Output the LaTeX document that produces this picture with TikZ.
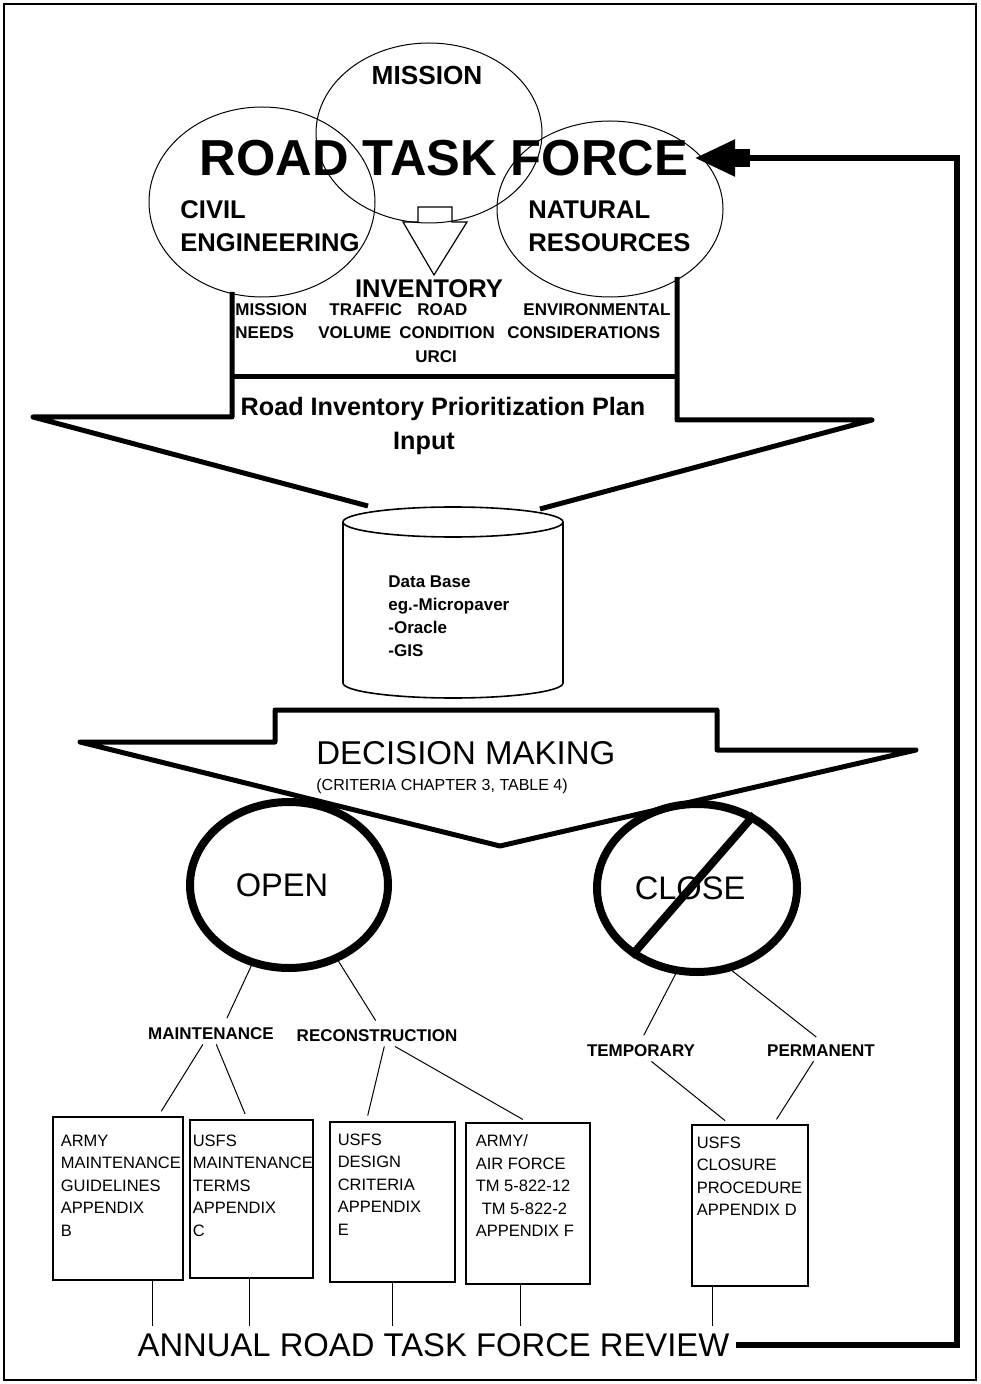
\documentclass[tikz,border=0pt]{standalone}
\usepackage{fontspec}
\setmainfont{Liberation Sans}
\usetikzlibrary{arrows.meta,positioning,shapes.geometric}

\begin{document}
\begin{tikzpicture}[x=0.5pt,y=-0.5pt,
  venn/.style={line width=0.5pt},
  fat/.style={line width=2.5pt,line join=round},
  ring/.style={draw,ellipse,line width=4pt,inner sep=0pt,minimum width=99pt,minimum height=83pt,font=\fontsize{16.3}{19}\selectfont},
  headtext/.style={font=\fontsize{12.8}{16.5}\selectfont\bfseries,inner sep=0pt,align=left},
  invword/.style={font=\fontsize{8.5}{10}\selectfont\bfseries,inner sep=0pt,anchor=west},
  branchlabel/.style={font=\fontsize{8.5}{10}\selectfont\bfseries,inner sep=2pt},
  branch/.style={line width=0.5pt,shorten >=3pt},
  docbox/.style={draw,line width=0.6pt,inner sep=0pt},
  doctext/.style={font=\fontsize{8.25}{11.25}\selectfont,align=left,inner sep=0pt},
  feedback/.style={line width=3pt,line join=miter,-{Rectangle[length=7.5pt,width=9pt,sep=0pt]Triangle[length=20pt,width=18pt,sep=0pt]}}]
  \useasboundingbox (0,0) rectangle (980,1384);
  % frame
  \draw[line width=1pt] (4,4) rectangle (976,1380);

  % task force circles
  \draw[venn] (429,133) ellipse [x radius=113,y radius=90];
  \draw[venn] (262,202) ellipse [x radius=113,y radius=95];
  \draw[venn] (610,209) ellipse [x radius=113,y radius=88];
  \node[headtext,font=\fontsize{13.1}{16}\selectfont\bfseries] (mission) at (427,75) {MISSION};
  \node[font=\fontsize{25.3}{30}\selectfont\bfseries] (rtf) at (444,158) {ROAD TASK FORCE};
  \node[headtext,anchor=west] (civil) at (180,226.5) {CIVIL\\ENGINEERING};
  \node[headtext,anchor=west] (natural) at (528,226.5) {NATURAL\\RESOURCES};
  % small hollow arrow
  \draw[line width=0.6pt] (418,207) -- (452,207) -- (452,222) -- (467,222) -- (434,275) -- (403,222) -- (418,222) -- cycle;

  % inventory
  \node[headtext] (inventory) at (429,289) {INVENTORY};
  \foreach \w/\x/\y in {MISSION/235/310,TRAFFIC/329/310,ROAD/417/310,ENVIRONMENTAL/523/310,
                        NEEDS/235/333,VOLUME/318/333,CONDITION/399/333,CONSIDERATIONS/507/333,URCI/415/357}
    \node[invword] (inv-\w) at (\x,\y) {\w};

  % input arrow
  \draw[fat] (232,292) -- (232,417) -- (33,417) -- (368,506);
  \draw[fat] (540,509) -- (872,420) -- (677,420) -- (677,277);
  \draw[fat] (232,377) -- (677,377);
  \node[headtext,font=\fontsize{12.6}{15}\selectfont\bfseries,anchor=base] (plan) at (443,416) {Road Inventory Prioritization Plan};
  \node[headtext,font=\fontsize{12.6}{15}\selectfont\bfseries,anchor=base] (input) at (424,450) {Input};

  % data base
  \fill[white] (343,522) rectangle (563,683);
  \fill[white] (453,683) ellipse [x radius=110,y radius=15];
  \draw[line width=0.8pt] (453,522) ellipse [x radius=110,y radius=15];
  \draw[line width=0.8pt] (343,522) -- (343,683);
  \draw[line width=0.8pt] (563,522) -- (563,683);
  \begin{scope}
    \clip (330,683) rectangle (576,705);
    \draw[line width=0.8pt] (453,683) ellipse [x radius=110,y radius=15];
  \end{scope}
  \node[font=\fontsize{8.5}{11.65}\selectfont\bfseries,align=left,inner sep=0pt,anchor=north west] (dbtext) at (388,575)
    {Data Base\\eg.-Micropaver\\-Oracle\\-GIS};

  % decision arrow
  \draw[fat] (275,710) -- (717,710) -- (717,750) -- (916,750) -- (500,846) -- (80,742) -- (275,742) -- cycle;
  \node[font=\fontsize{16.5}{19}\selectfont,inner sep=0pt,anchor=base west] (decision) at (316,764) {DECISION MAKING};
  \node[font=\fontsize{8}{10}\selectfont,inner sep=0pt,anchor=base west] (criteria) at (316,790) {(CRITERIA CHAPTER 3, TABLE 4)};

  % open / close
  \node[ring] (open) at (289,885) {OPEN\hspace*{7pt}};
  \node[ring,minimum width=100pt,minimum height=84pt] (close) at (697,888) {CLOSE\hspace*{7pt}};
  \draw[line width=4pt] (close.226) -- (close.52);

  \node[branchlabel] (maint) at (211,1034) {MAINTENANCE};
  \node[branchlabel] (recon) at (377,1036) {RECONSTRUCTION};
  \node[branchlabel] (temp) at (641,1051) {TEMPORARY};
  \node[branchlabel] (perm) at (821,1051) {PERMANENT};

  % documents
  \node[docbox,minimum width=65pt,minimum height=81.5pt] (armybox) at (118,1198.5) {};
  \node[docbox,minimum width=61.5pt,minimum height=79pt] (usfsmbox) at (251.5,1199) {};
  \node[docbox,minimum width=62.5pt,minimum height=80pt] (designbox) at (392.5,1202) {};
  \node[docbox,minimum width=62pt,minimum height=80.5pt] (armyafbox) at (528,1203.5) {};
  \node[docbox,minimum width=58pt,minimum height=80.5pt] (closurebox) at (750,1205.5) {};
  \node[doctext,below right=9pt and 4pt of armybox.north west] (armytext) {ARMY\\MAINTENANCE\\GUIDELINES\\APPENDIX\\B};
  \node[doctext,below right=7.5pt and 1.5pt of usfsmbox.north west] (usfsmtext) {USFS\\MAINTENANCE\\TERMS\\APPENDIX\\C};
  \node[doctext,below right=6pt and 4pt of designbox.north west] (designtext) {USFS\\DESIGN\\CRITERIA\\APPENDIX\\E};
  \node[doctext,below right=6pt and 5pt of armyafbox.north west] (armyaftext) {ARMY/\\AIR FORCE\\TM 5-822-12\\\hspace*{3pt}TM 5-822-2\\APPENDIX F};
  \node[doctext,below right=6pt and 2.5pt of closurebox.north west] (closuretext) {USFS\\CLOSURE\\PROCEDURE\\APPENDIX D};

  % branches
  \draw[branch] (open.245) -- (maint.38);
  \draw[branch] (open.303) -- (recon.80);
  \draw[branch] (close.256) -- (temp.north);
  \draw[branch] (close.293) -- (perm.north);
  \draw[branch] (maint.232) -- (armybox.64);
  \draw[branch] (maint.297) -- (usfsmbox.93);
  \draw[branch] (recon.305) -- (designbox.108);
  \draw[branch] (recon.330) -- (armyafbox.north);
  \draw[branch] (temp.315) -- (closurebox.104);
  \draw[branch] (perm.234) -- (closurebox.74);

  % review
  \node[font=\fontsize{16.4}{19}\selectfont] (review) at (433.5,1345) {ANNUAL ROAD TASK FORCE REVIEW};
  \foreach \b/\x in {armybox/152,usfsmbox/249,designbox/392,armyafbox/520,closurebox/712}
    \draw[line width=0.5pt] (\b.south -| \x,0) -- (\x,0 |- review.north);
  \coordinate (fbtop) at (957,158);
  \draw[feedback] (review.east) -| (fbtop) -- (rtf.east);
\end{tikzpicture}
\end{document}
